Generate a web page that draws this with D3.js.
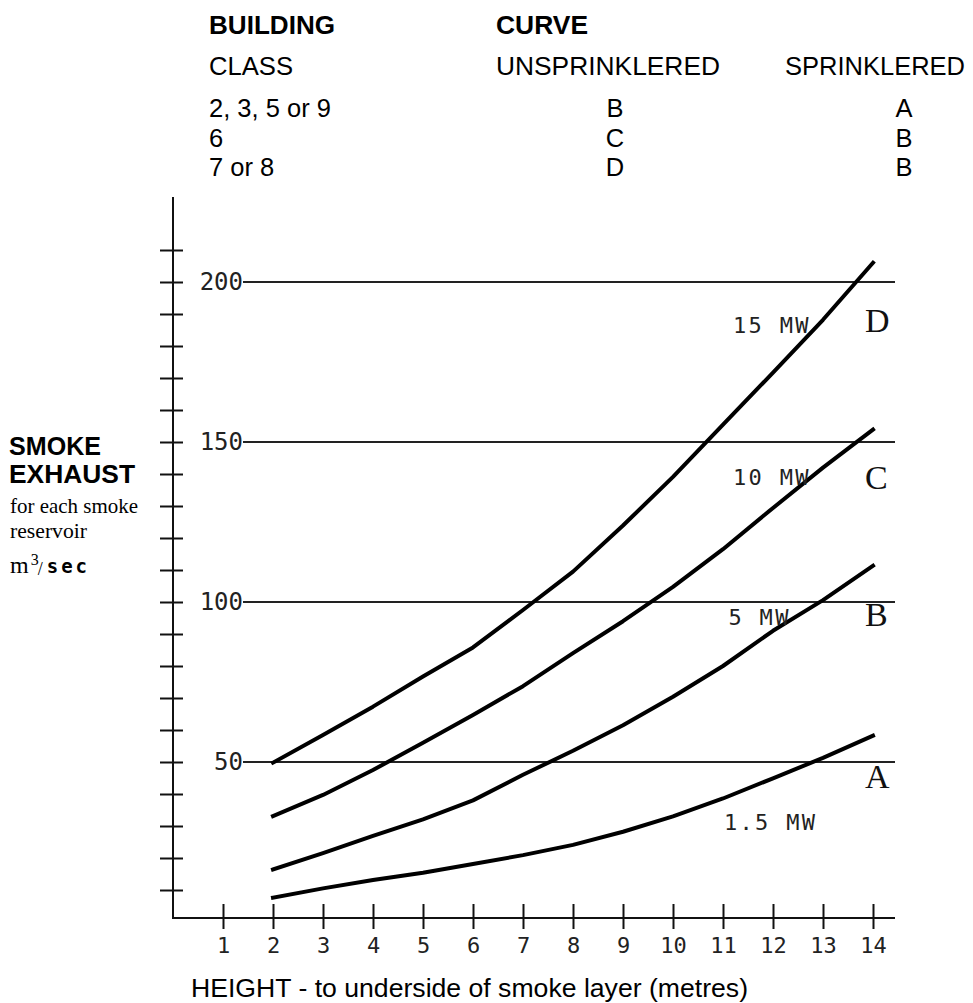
<!DOCTYPE html>
<html>
<head>
<meta charset="utf-8">
<script src="https://cdn.jsdelivr.net/npm/d3@7"></script>
<style>
  html, body { margin: 0; padding: 0; background: #fff; }
  svg { display: block; }
</style>
</head>
<body>
<div id="chart"></div>
<script>
// ---------------- DATA ----------------
const heights = [2, 3, 4, 5, 6, 7, 8, 9, 10, 11, 12, 13, 14];          // metres
const curveA = [7.6, 10.5, 13.1, 15.4, 18.1, 20.9, 24.1, 28.2, 33.0, 38.6, 44.9, 51.3, 58.2];   // 1.5 MW
const curveB = [16.4, 21.5, 26.9, 32.1, 38.0, 46.0, 53.5, 61.5, 70.4, 80.0, 91.0, 100.6, 111.3]; // 5 MW
const curveC = [33.1, 39.7, 47.5, 56.0, 64.7, 73.7, 84.0, 94.0, 104.7, 116.5, 129.4, 142.0, 153.9]; // 10 MW
const curveD = [49.8, 58.4, 67.3, 76.7, 85.8, 97.5, 109.5, 123.9, 139.1, 155.4, 171.7, 188.2, 206.0]; // 15 MW
const curveLetters = ["A", "B", "C", "D"];
const fireSizes = ["1.5 MW", "5 MW", "10 MW", "15 MW"];
const xTicks = [1, 2, 3, 4, 5, 6, 7, 8, 9, 10, 11, 12, 13, 14];
const yMinorTicks = [10, 20, 30, 40, 50, 60, 70, 80, 90, 100, 110, 120, 130, 140, 150, 160, 170, 180, 190, 200, 210];
const yLabelled = [50, 100, 150, 200];
const classes = ["2, 3, 5 or 9", "6", "7 or 8"];
const unsprinklered = ["B", "C", "D"];
const sprinklered = ["A", "B", "B"];

// ---------------- SETUP ----------------
const W = 973, H = 1003;
const svg = d3.select("#chart").append("svg").attr("width", W).attr("height", H);

const x = d3.scaleLinear().domain([0, 14]).range([173, 873]);
const y = d3.scaleLinear().domain([0, 200]).range([922, 282]);
const axisY = 918;

const monoFont = "'DejaVu Sans Mono', monospace";
const sansFont = "'Liberation Sans', Arial, sans-serif";
const serifFont = "'Liberation Serif', 'Times New Roman', serif";

// ---------------- HEADER TABLE ----------------
const hdr = svg.append("g").attr("font-family", sansFont).attr("fill", "#000");
hdr.append("text").attr("x", 209).attr("y", 34).attr("font-size", 26).attr("font-weight", "bold")
  .attr("textLength", 126).attr("lengthAdjust", "spacingAndGlyphs").text("BUILDING");
hdr.append("text").attr("x", 496).attr("y", 34).attr("font-size", 26).attr("font-weight", "bold")
  .attr("textLength", 92).attr("lengthAdjust", "spacingAndGlyphs").text("CURVE");
hdr.append("text").attr("x", 209).attr("y", 75).attr("font-size", 25.5)
  .attr("textLength", 84).attr("lengthAdjust", "spacingAndGlyphs").text("CLASS");
hdr.append("text").attr("x", 496).attr("y", 75).attr("font-size", 25.5)
  .attr("textLength", 224).attr("lengthAdjust", "spacingAndGlyphs").text("UNSPRINKLERED");
hdr.append("text").attr("x", 785).attr("y", 75).attr("font-size", 25.5)
  .attr("textLength", 180).attr("lengthAdjust", "spacingAndGlyphs").text("SPRINKLERED");

const rowY = d3.scaleLinear().domain([0, 1]).range([117, 146.5]);
classes.forEach((c, i) => {
  hdr.append("text").attr("x", 209).attr("y", rowY(i)).attr("font-size", 25.5).text(c);
  hdr.append("text").attr("x", 615).attr("y", rowY(i)).attr("font-size", 25.5)
    .attr("text-anchor", "middle").text(unsprinklered[i]);
  hdr.append("text").attr("x", 904).attr("y", rowY(i)).attr("font-size", 25.5)
    .attr("text-anchor", "middle").text(sprinklered[i]);
});

// ---------------- GRID LINES ----------------
const grid = svg.append("g");
grid.selectAll("line").data(yLabelled).join("line")
  .attr("x1", x(1.4)).attr("x2", x(14.44))
  .attr("y1", d => y(d)).attr("y2", d => y(d))
  .attr("stroke", "#222").attr("stroke-width", 2);
grid.selectAll("text").data(yLabelled).join("text")
  .attr("x", x(1.4)).attr("y", d => y(d) + 7.5)
  .attr("text-anchor", "end")
  .attr("font-family", monoFont).attr("font-size", 24).attr("fill", "#222")
  .text(d => d);

// ---------------- Y AXIS ----------------
const yAxisG = svg.append("g").attr("transform", `translate(${x(0)},0)`)
  .call(d3.axisLeft(y).tickValues(yMinorTicks).tickSizeInner(13).tickSizeOuter(0).tickFormat(""));
yAxisG.select(".domain").remove();
yAxisG.selectAll(".tick line").attr("x1", 10).attr("stroke", "#111").attr("stroke-width", 2);
yAxisG.selectAll(".tick text").remove();
svg.append("line")
  .attr("x1", x(0)).attr("x2", x(0))
  .attr("y1", y(226.6)).attr("y2", axisY + 1)
  .attr("stroke", "#111").attr("stroke-width", 2);

// ---------------- X AXIS ----------------
const xAxisG = svg.append("g").attr("transform", `translate(0,${axisY})`)
  .call(d3.axisBottom(x).tickValues(xTicks).tickSizeInner(11).tickSizeOuter(0));
xAxisG.select(".domain").remove();
xAxisG.selectAll(".tick line").attr("y1", -14).attr("y2", 11).attr("stroke", "#111").attr("stroke-width", 2);
xAxisG.selectAll(".tick text")
  .attr("y", 35).attr("dy", null)
  .attr("font-family", monoFont).attr("font-size", 22).attr("fill", "#222");
svg.append("line")
  .attr("x1", x(0) - 1).attr("x2", x(14.44))
  .attr("y1", axisY).attr("y2", axisY)
  .attr("stroke", "#111").attr("stroke-width", 2);

// ---------------- CURVES ----------------
const series = [curveA, curveB, curveC, curveD];
const line = d3.line().x(d => x(d[0])).y(d => y(d[1])).curve(d3.curveLinear);
svg.append("g").selectAll("path").data(series).join("path")
  .attr("d", s => line(heights.map((h, i) => [h, s[i]])))
  .attr("fill", "none").attr("stroke", "#000").attr("stroke-width", 4)
  .attr("stroke-linejoin", "round").attr("stroke-linecap", "square");

// fire size labels (positioned in data units)
const mwPos = [[11.02, 28.7], [11.11, 92.8], [11.2, 136.6], [11.2, 184.2]];
svg.append("g").selectAll("text").data(fireSizes).join("text")
  .attr("x", (d, i) => x(mwPos[i][0])).attr("y", (d, i) => y(mwPos[i][1]))
  .attr("font-family", monoFont).attr("font-size", 22).attr("letter-spacing", 2.3)
  .attr("fill", "#222").text(d => d);

// curve letters
const letterVal = [41.8, 92.4, 135.2, 184.5];
svg.append("g").selectAll("text").data(curveLetters).join("text")
  .attr("x", x(13.84)).attr("y", (d, i) => y(letterVal[i]))
  .attr("font-family", serifFont).attr("font-size", 34).attr("fill", "#111")
  .text(d => d);

// ---------------- AXIS TITLES ----------------
const yt = svg.append("g").attr("fill", "#000");
yt.append("text").attr("x", 9).attr("y", 455).attr("font-family", sansFont).attr("font-weight", "bold")
  .attr("font-size", 25).attr("textLength", 92).attr("lengthAdjust", "spacingAndGlyphs").text("SMOKE");
yt.append("text").attr("x", 9).attr("y", 483).attr("font-family", sansFont).attr("font-weight", "bold")
  .attr("font-size", 25).attr("textLength", 126).attr("lengthAdjust", "spacingAndGlyphs").text("EXHAUST");
yt.append("text").attr("x", 10).attr("y", 512.5).attr("font-family", serifFont)
  .attr("font-size", 21).attr("textLength", 128).attr("lengthAdjust", "spacingAndGlyphs").text("for each smoke");
yt.append("text").attr("x", 10).attr("y", 538).attr("font-family", serifFont)
  .attr("font-size", 21).attr("textLength", 77).attr("lengthAdjust", "spacingAndGlyphs").text("reservoir");
// m³/ sec as one text line with tspans
const unit = yt.append("text").attr("x", 10).attr("y", 572.5).attr("font-family", serifFont).attr("font-size", 24);
unit.append("tspan").text("m");
unit.append("tspan").attr("font-size", 16).attr("dy", -8).attr("dx", 2).text("3");
unit.append("tspan").attr("font-size", 18).attr("dy", 10).attr("dx", -1).text("/");
unit.append("tspan").attr("dy", -2).attr("dx", 4).attr("font-family", monoFont).attr("font-weight", "bold")
  .attr("font-size", 19).attr("letter-spacing", 3).text("sec");

svg.append("text").attr("x", 191).attr("y", 996.5).attr("font-family", sansFont)
  .attr("font-size", 25).attr("textLength", 557).attr("lengthAdjust", "spacingAndGlyphs")
  .attr("fill", "#000").text("HEIGHT - to underside of smoke layer (metres)");
</script>
</body>
</html>
